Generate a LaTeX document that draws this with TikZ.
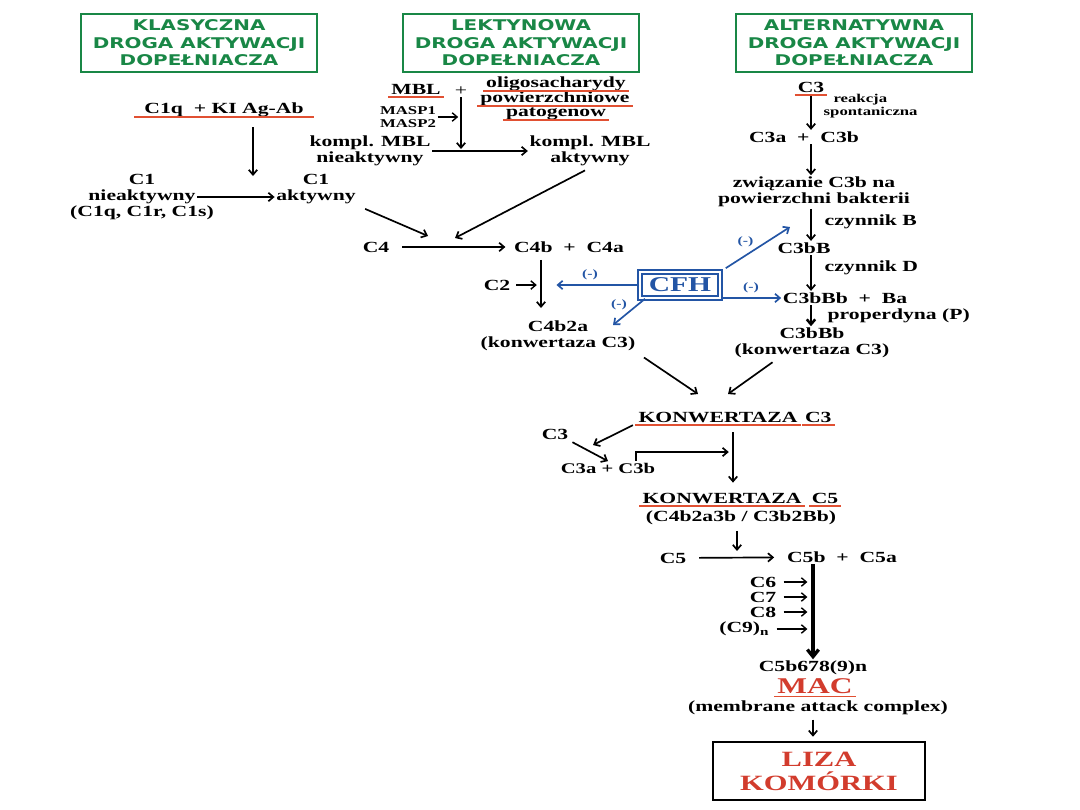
\documentclass[tikz,border=0pt]{standalone}
\usepackage{fontspec}
\setmainfont{Liberation Serif}[FakeStretch=1.4]
\newfontfamily\hdrfont{DejaVu Sans}[FakeStretch=1.35]
\usepackage{tikz}
\usetikzlibrary{arrows.meta,positioning}
\definecolor{mygreen}{RGB}{25,135,70}
\definecolor{myred}{RGB}{225,80,50}
\definecolor{mydeepred}{RGB}{210,60,45}
\definecolor{myblue}{RGB}{35,85,165}

\begin{document}
\begin{tikzpicture}[x=0.025cm, y=-0.025cm,
  txt/.style={font=\bfseries\fontsize{11}{11.5}\selectfont, inner sep=1pt, align=center},
  sml/.style={font=\bfseries\fontsize{8.5}{9.5}\selectfont, inner sep=1pt, align=center},
  hdr/.style={draw=mygreen, line width=1.3pt, text=mygreen,
              font=\hdrfont\bfseries\fontsize{10.5}{12.5}\selectfont,
              minimum width=5.9cm, minimum height=1.45cm, align=center},
  uline/.style={txt, inner xsep=2pt, inner ysep=1pt},
  redline/.style={myred, line width=1.2pt},
  arr/.style={-{Straight Barb[length=3.5pt,width=6pt]}, line width=1.2pt},
  blarr/.style={arr, myblue},
  minus/.style={text=myblue, font=\bfseries\fontsize{8}{8}\selectfont, inner sep=1pt}]

  \useasboundingbox (0,0) rectangle (1080,810);

  % headers
  \node[hdr] (hdrk) at (199,43) {KLASYCZNA\\DROGA AKTYWACJI\\DOPEŁNIACZA};
  \node[hdr] (hdrl) at (521,43) {LEKTYNOWA\\DROGA AKTYWACJI\\DOPEŁNIACZA};
  \node[hdr] (hdra) at (854,43) {ALTERNATYWNA\\DROGA AKTYWACJI\\DOPEŁNIACZA};

  % classical pathway
  \node[uline, inner xsep=7pt] (c1q) at (224,110) {C1q\ \ + KI Ag-Ab};
  \node[txt] (c1n) at (142,197) {C1\\nieaktywny\\(C1q, C1r, C1s)};
  \node[txt] (c1a) at (316,189) {C1\\aktywny};
  \coordinate (j1) at (253,176);
  \draw[arr, shorten <=6pt] (c1q.south -| j1) -- (j1);
  \draw[arr] ([xshift=-0.45cm]c1n.east) -- (c1n.east -| c1a.west);

  % lectin pathway
  \node[uline] (mbl) at (416,89) {MBL};
  \node[txt, font=\fontsize{11}{11}\selectfont] (plus) at (461,91) {+};
  \node[uline] (oli1) at (556,84) {oligosacharydy};
  \node[uline] (oli2) at (555,99) {powierzchniowe};
  \node[uline] (oli3) at (556,114) {patogenow};
  \node[sml] (masp) at (408,117) {MASP1\\MASP2};
  \coordinate (j2) at (461,149);
  \draw[arr] (plus.south) -- (j2);
  \draw[arr, line width=1pt, shorten >=2pt] (masp.east) -- (masp.east -| j2);
  \node[txt] (kmbln) at (370,151) {kompl. MBL\\nieaktywny};
  \node[txt] (kmbla) at (590,151) {kompl. MBL\\aktywny};
  \draw[arr] (kmbln.east) -- (kmbla.west);

  % C4 / C2
  \node[txt] (c4) at (376,247) {C4};
  \node[txt] (c4b) at (569,247) {C4b\ \ +\ \ C4a};
  \coordinate (j3) at (428,236);
  \coordinate (j4) at (455,238);
  \draw[arr, shorten <=6pt] (c1a.south east) -- (j3);
  \draw[arr, shorten <=4pt] (kmbla.south) -- (j4);
  \draw[arr, shorten <=8pt, shorten >=5pt] (c4) -- (c4b);
  \node[txt] (c2) at (497,285) {C2};
  \coordinate (j6) at (541,308);
  \draw[arr, shorten <=4pt] (c4b.south -| j6) -- (j6);
  \draw[arr, line width=1pt, shorten <=3pt, shorten >=3pt] (c2.east) -- (c2.east -| j6);
  \node[txt] (c4b2a) at (558,336) {C4b2a\\(konwertaza C3)};

  % alternative pathway
  \node[uline] (c3top) at (811,87) {C3};
  \node[txt] (c3ab) at (804,137) {C3a\ \ +\ \ C3b};
  \node[txt] (wiaz) at (814,192) {związanie C3b na\\powierzchni bakterii};
  \node[txt] (c3bb1) at (804,248) {C3bB};
  \node[txt] (c3bbb) at (845,298) {C3bBb\ \ +\ \ Ba};
  \node[txt] (c3conv) at (812,343) {C3bBb\\(konwertaza C3)};
  \draw[arr] (c3top.south) -- (c3top |- c3ab.north);
  \draw[arr] (c3top |- c3ab.south) -- (c3top |- wiaz.north);
  \draw[arr] (c3top |- wiaz.south) -- (c3top |- c3bb1.north);
  \draw[arr] (c3top |- c3bb1.south) -- (c3top |- c3bbb.north);
  \draw[arr, line width=1.8pt] (c3top |- c3bbb.south) -- (c3top |- c3conv.north);
  \node[sml, anchor=west, align=left] (spont) at (822,106) {\hspace*{7pt}reakcja\\spontaniczna};
  \node[txt, anchor=west] (czb) at (823,222) {czynnik B};
  \node[txt, anchor=west] (czd) at (823,268) {czynnik D};
  \node[txt, anchor=west] (prop) at (826,316) {properdyna (P)};

  % CFH
  \node[draw=myblue, double, double distance=1.3pt, line width=1.4pt, text=myblue,
        font=\bfseries\fontsize{15}{15}\selectfont, minimum width=2cm,
        minimum height=0.64cm, inner sep=1pt] (cfh) at (680,285) {CFH};
  \coordinate (j7) at (613,325);
  \coordinate (j8) at (790,227);
  \draw[blarr, shorten >=11pt] (cfh.west) -- (cfh.west -| j6)
    node[minus, midway, above=2pt] {(-)};
  \draw[blarr] ([xshift=0.15cm]cfh.south west) -- (j7)
    node[minus, midway, above left] {(-)};
  \draw[blarr, shorten <=4pt] (cfh.north east) -- (j8)
    node[minus, midway, above left] {(-)};
  \draw[blarr] (cfh.east |- c3bbb) -- (c3bbb.west)
    node[minus, midway, above=2pt] {(-)};

  % C3 convertase
  \node[uline] (kc3a) at (718,417) {KONWERTAZA};
  \node[uline, right=1pt of kc3a] (kc3b) {C3};
  \coordinate (j9) at (698,394);
  \coordinate (j10) at (728,394);
  \draw[arr, shorten <=6pt] (c4b2a.south east) -- (j9);
  \draw[arr, shorten <=3pt] ([xshift=-0.9cm]c3conv.south) -- (j10);
  \node[txt] (c3l) at (555,434) {C3};
  \node[txt, font=\bfseries\fontsize{10.5}{10.5}\selectfont] (c3ab2) at (608,468) {C3a + C3b};
  \coordinate (j11) at (593,445);
  \coordinate (j12) at (733,452);
  \draw[arr, shorten <=2pt] (kc3a.south west) -- (j11);
  \draw[arr, shorten <=2pt] (c3l.south east) -- (c3ab2.north);
  \draw[arr, shorten >=3pt] ([xshift=0.7cm]c3ab2.north) |- (j12);

  % C5 convertase
  \node[uline] (kc5a) at (722,498) {KONWERTAZA};
  \node[uline, right=3pt of kc5a] (kc5b) {C5};
  \node[txt] (kc5sub) at (741,518) {(C4b2a3b / C3b2Bb)};
  \draw[arr, shorten <=6pt, shorten >=6pt] (kc3a.south -| j12) -- (kc5a.north -| j12);
  \coordinate (j13) at (737,551);
  \draw[arr, shorten <=3pt] (kc5sub.south -| j13) -- (j13);
  \node[txt] (c5) at (673,558) {C5};
  \node[txt] (c5b) at (842,557) {C5b\ \ +\ \ C5a};
  \draw[arr, shorten <=8pt, shorten >=8pt] (c5) -- (c5b);

  % MAC
  \node[txt] (c5b678) at (813,668) {C5b678(9)n};
  \node[uline, text=mydeepred, font=\bfseries\fontsize{16}{16}\selectfont] (mac) at (815,686) {MAC};
  \node[txt] (mem) at (818,708) {(membrane attack complex)};
  \draw[line width=2.4pt, -{Straight Barb[length=5pt,width=8pt]}] (c5b.south -| c5b678.north) -- (c5b678.north);
  \foreach \n/\t/\x/\y in {c6/C6/778/582, c7/C7/778/597, c8/C8/778/612, c9/{(C9)\textsubscript{n}}/771/629}{
    \node[txt, anchor=east] (\n) at (\x,\y) {\t};
    \draw[arr, line width=1pt, shorten <=4pt, shorten >=4pt] (\n.east) -- (\n.east -| c5b678.north);
  }
  \node[draw, line width=1.5pt, minimum width=5.3cm, minimum height=1.45cm, text=mydeepred,
        font=\bfseries\fontsize{15.5}{17}\selectfont, align=center] (liza) at (819,771) {LIZA\\KOMÓRKI};
  \draw[arr, shorten <=2pt, shorten >=3pt] (mem.south -| c5b678) -- (c5b678 |- liza.north);

  % red underlines
  \foreach \n in {c1q,mbl,oli1,oli2,oli3,c3top,kc3a,kc3b,kc5a,kc5b,mac}
    \draw[redline] ([yshift=-2.2pt]\n.base west) -- ([yshift=-2.2pt]\n.base east);
\end{tikzpicture}
\end{document}
